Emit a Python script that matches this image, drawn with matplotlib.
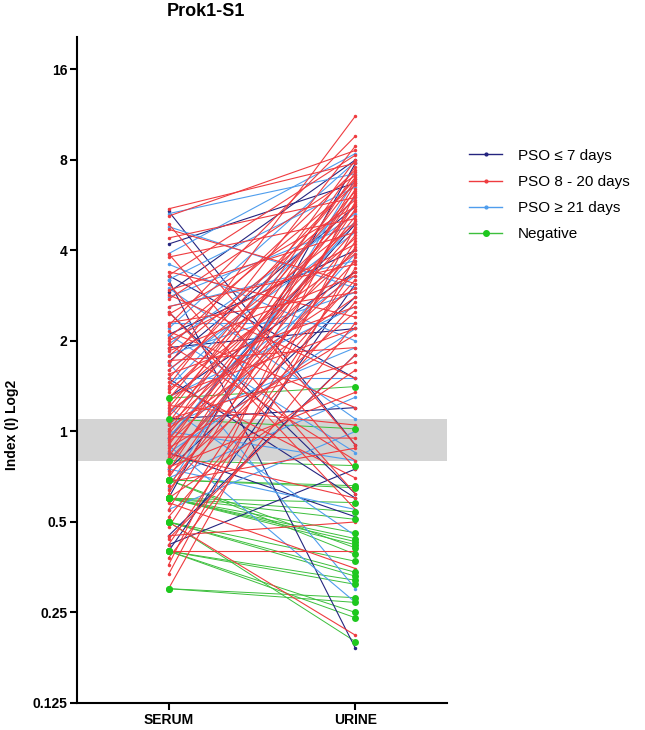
import matplotlib
matplotlib.use("Agg")
import matplotlib.pyplot as plt
from matplotlib.lines import Line2D

plt.rcParams['font.family'] = ['Liberation Sans', 'DejaVu Sans']

# paired values (serum, urine) per group
navy_serum = [5.4, 4.2, 3.3, 3.2, 2.9, 2.5, 2.1, 1.9, 1.7, 1.5, 1.3, 1.1,
              0.95, 0.85, 0.75, 0.6, 0.45, 0.42, 0.4]
navy_urine = [0.9, 6.7, 1.5, 0.19, 8.0, 0.62, 4.0, 2.2, 5.6, 0.6, 3.4, 1.2,
              4.9, 0.52, 2.8, 7.8, 1.8, 0.75, 3.1]

red_serum = [5.5, 5.2, 4.9, 4.7, 4.4, 3.9, 3.8, 3.4, 3.3, 3.1, 2.95, 2.85,
             2.75, 2.6, 2.5, 2.45, 2.3, 2.25, 2.15, 2.05, 2.0, 1.95, 1.9,
             1.85, 1.78, 1.72, 1.66, 1.6, 1.55, 1.5, 1.46, 1.42, 1.38, 1.35,
             1.31, 1.28, 1.25, 1.22, 1.2, 1.17, 1.14, 1.12, 1.1, 1.07, 1.05,
             1.02, 1.0, 0.98, 0.96, 0.94, 0.92, 0.9, 0.88, 0.86, 0.84, 0.82,
             0.8, 0.78, 0.76, 0.74, 0.72, 0.7, 0.68, 0.66, 0.64, 0.62, 0.6,
             0.58, 0.55, 0.52, 0.5, 0.48, 0.45, 0.42, 0.4, 0.38, 0.36, 0.335,
             0.3, 0.44]
red_urine = [7.8, 8.6, 0.9, 3.1, 6.0, 0.75, 5.1, 2.4, 8.3, 0.62, 4.6, 1.5,
             7.1, 3.6, 0.55, 5.6, 2.9, 9.6, 1.2, 6.6, 4.2, 0.8, 7.4, 3.3, 5.9,
             1.9, 11.2, 4.9, 2.6, 6.9, 0.7, 8.9, 3.9, 5.4, 2.2, 7.0, 4.4,
             1.05, 6.3, 3.0, 8.0, 5.0, 1.7, 6.8, 4.0, 2.8, 7.6, 5.7, 0.95,
             4.7, 3.4, 6.1, 2.1, 5.2, 0.6, 7.3, 3.7, 4.5, 1.35, 6.4, 2.5, 5.5,
             0.88, 4.1, 3.2, 6.7, 1.6, 0.35, 5.8, 2.7, 0.21, 4.3, 0.5, 3.5,
             0.4, 2.3, 6.2, 4.8, 3.8, 1.8]

lblue_serum = [5.3, 4.8, 3.9, 3.6, 3.2, 3.0, 2.8, 2.6, 2.3, 2.2, 2.1, 1.95,
               1.8, 1.7, 1.6, 1.5, 1.4, 1.3, 1.2, 1.15, 1.05, 1.0, 0.95, 0.9,
               0.85, 0.8, 0.75, 0.7, 0.65, 0.55]
lblue_urine = [7.2, 3.0, 8.4, 2.0, 6.5, 1.1, 4.9, 3.7, 2.3, 7.9, 0.85, 5.3,
               2.9, 0.3, 4.6, 1.5, 6.0, 2.6, 0.45, 3.3, 1.9, 0.8, 5.0, 0.27,
               2.2, 3.9, 0.55, 1.3, 6.9, 1.0]

neg_serum = [1.29, 1.1, 0.8, 0.69, 0.69, 0.6, 0.6, 0.6, 0.6, 0.6, 0.6, 0.6,
             0.69, 0.69, 0.5, 0.5, 0.5, 0.4, 0.4, 0.3, 0.3, 0.4, 0.4, 0.5]
neg_urine = [1.41, 1.02, 0.77, 0.66, 0.65, 0.58, 0.54, 0.51, 0.46, 0.44,
             0.43, 0.42, 0.41, 0.39, 0.37, 0.34, 0.33, 0.32, 0.31, 0.28,
             0.27, 0.25, 0.24, 0.2]

# drawn bottom to top
groups = [
    ("Negative", neg_serum, neg_urine, "#3cbf3c", 5, 1),
    ("PSO \u2264 7 days", navy_serum, navy_urine, "#24247f", 2.5, 2),
    ("PSO \u2265 21 days", lblue_serum, lblue_urine, "#4f9ded", 2.5, 3),
    ("PSO 8 - 20 days", red_serum, red_urine, "#ef3b3f", 2.5, 4),
]

fig = plt.figure(figsize=(6.45, 7.30), dpi=100)
ax = fig.add_axes([77 / 645, 27 / 730, 370 / 645, 666 / 730])

ax.axhspan(0.8, 1.1, color="#d4d4d4", lw=0, zorder=0)

for name, s, u, col, ms, z in groups:
    lw = 0.7 if name == "Negative" else 0.8
    for a, b in zip(s, u):
        ax.plot([0, 1], [a, b], color=col, lw=lw, zorder=z)
    mc = "#1ec81e" if name == "Negative" else col
    zm = 6 if name == "Negative" else z
    ax.plot([0] * len(s), s, ls="none", marker="o", ms=ms, mfc=mc,
            mec=mc, mew=0, zorder=zm)
    ax.plot([1] * len(u), u, ls="none", marker="o", ms=ms, mfc=mc,
            mec=mc, mew=0, zorder=zm)

ax.set_yscale("log", base=2)
ax.set_ylim(0.125, 20.5)
ax.set_xlim(-0.49, 1.49)
yt = [0.125, 0.25, 0.5, 1, 2, 4, 8, 16]
ax.set_yticks(yt)
ax.set_yticklabels(["0.125", "0.25", "0.5", "1", "2", "4", "8", "16"],
                   fontweight="bold", fontsize=10)
ax.yaxis.set_minor_locator(matplotlib.ticker.NullLocator())
ax.set_xticks([0, 1])
ax.set_xticklabels(["SERUM", "URINE"], fontweight="bold", fontsize=10)
for side in ["top", "right"]:
    ax.spines[side].set_visible(False)
for side in ["left", "bottom"]:
    ax.spines[side].set_linewidth(1.5)
ax.tick_params(width=1.5, length=5, direction="out", pad=2)

fig.text(206 / 645, 1 - 11 / 730, "Prok1-S1", ha="center", va="center",
         fontsize=13, fontweight="bold")
fig.text(12 / 645, 1 - 425 / 730, "Index (I) Log2", rotation=90,
         ha="center", va="center", fontsize=10, fontweight="bold")

handles = [
    Line2D([], [], color="#24247f", lw=1, marker="o", ms=2),
    Line2D([], [], color="#ef3b3f", lw=1, marker="o", ms=2),
    Line2D([], [], color="#4f9ded", lw=1, marker="o", ms=2),
    Line2D([], [], color="#3cbf3c", lw=1, marker="o", ms=4,
           mfc="#1ec81e", mec="#1ec81e"),
]
labels = ["PSO \u2264 7 days", "PSO 8 - 20 days", "PSO \u2265 21 days", "Negative"]
fig.legend(handles, labels, loc="upper left",
           bbox_to_anchor=(455 / 645, 1 - 135 / 730), frameon=False,
           fontsize=11, handlelength=2.2, labelspacing=0.8,
           handletextpad=1.0)

fig.savefig("out.png", dpi=100)
